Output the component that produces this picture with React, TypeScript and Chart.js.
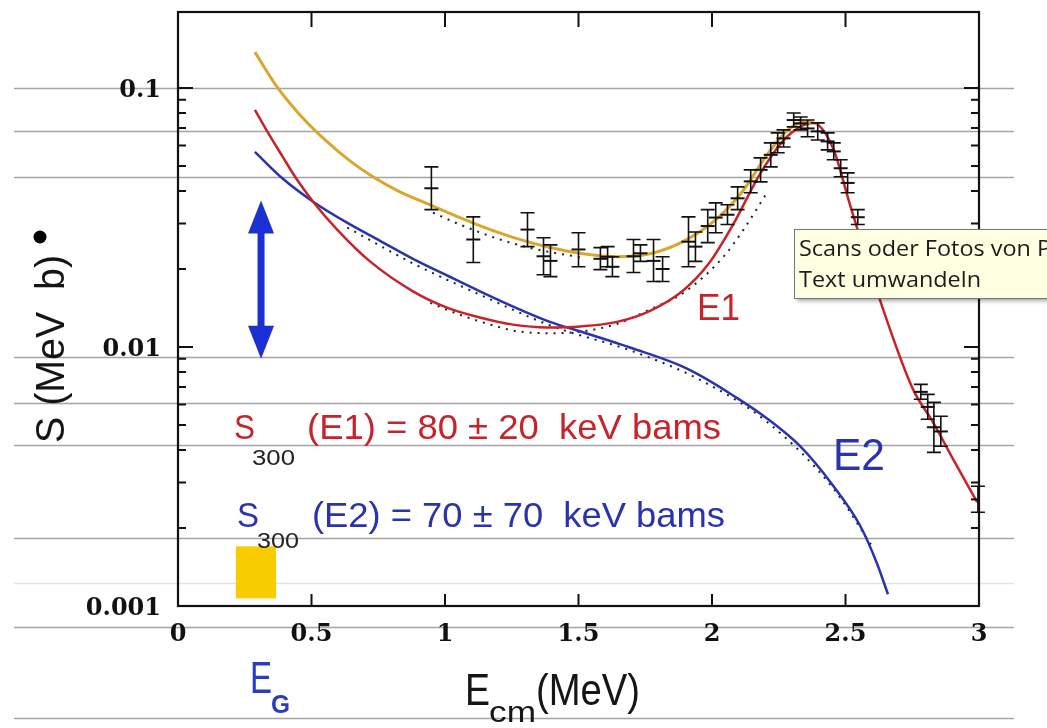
import React, { useEffect, useRef } from 'react';
import { Chart, registerables } from 'chart.js';
Chart.register(...registerables);

// ---- data ----
const totalX = [0.288, 0.371, 0.457, 0.551, 0.644, 0.730, 0.831, 0.944, 1.056, 1.142, 1.270, 1.393, 1.517, 1.644, 1.768, 1.891, 2.019, 2.116, 2.206, 2.281, 2.348, 2.397];
const totalY = [0.1376, 0.1009, 0.0787, 0.0630, 0.0523, 0.0454, 0.0397, 0.0354, 0.0316, 0.0291, 0.0262, 0.0242, 0.0229, 0.0223, 0.0229, 0.0255, 0.0313, 0.0401, 0.0552, 0.0683, 0.0740, 0.0726];

const e1X = [0.288, 0.333, 0.390, 0.446, 0.506, 0.596, 0.719, 0.880, 1.007, 1.131, 1.255, 1.382, 1.506, 1.644, 1.768, 1.891, 1.985, 2.079, 2.180, 2.266, 2.330, 2.378, 2.453, 2.517, 2.629, 2.753, 2.828, 2.903, 2.993];
const e1Y = [0.0823, 0.0683, 0.0547, 0.0442, 0.0364, 0.0284, 0.0214, 0.0164, 0.0142, 0.0130, 0.0122, 0.0119, 0.0120, 0.0125, 0.0138, 0.0165, 0.0208, 0.0297, 0.0466, 0.0625, 0.0708, 0.0733, 0.0587, 0.0354, 0.0152, 0.00686, 0.00512, 0.00369, 0.00252];

const e2X = [0.288, 0.393, 0.506, 0.633, 0.757, 0.880, 1.007, 1.131, 1.270, 1.393, 1.517, 1.704, 1.880, 1.955, 2.079, 2.206, 2.330, 2.453, 2.554, 2.618, 2.659];
const e2Y = [0.0567, 0.0446, 0.0364, 0.0302, 0.0257, 0.0219, 0.0189, 0.0164, 0.0141, 0.0125, 0.0114, 0.00987, 0.00849, 0.00777, 0.00650, 0.00530, 0.00414, 0.00292, 0.00205, 0.00146, 0.00111];

const fitTotX = [0.955, 1.056, 1.206, 1.345, 1.517];
const fitTotY = [0.0330, 0.0297, 0.0260, 0.0238, 0.0221];

const fitE1X = [0.945, 1.057, 1.170, 1.271, 1.395, 1.519, 1.646, 1.770, 1.894, 2.043, 2.118, 2.201];
const fitE1Y = [0.0148, 0.0133, 0.0122, 0.0115, 0.0113, 0.0115, 0.0123, 0.0140, 0.0162, 0.0223, 0.0284, 0.0387];

const fitE2X = [0.634, 0.881, 1.132, 1.395, 1.706, 1.957, 2.208, 2.456, 2.595];
const fitE2Y = [0.0289, 0.0210, 0.0159, 0.0121, 0.00960, 0.00745, 0.00512, 0.00283, 0.00173];

const dataX = [0.949, 1.106, 1.309, 1.369, 1.395, 1.500, 1.582, 1.609, 1.627, 1.706, 1.732, 1.781, 1.815, 1.912, 1.938, 1.984, 2.014, 2.058, 2.096, 2.145, 2.182, 2.220, 2.246, 2.268, 2.306, 2.332, 2.358, 2.396, 2.433, 2.456, 2.482, 2.508, 2.546, 2.782, 2.808, 2.831, 2.857, 2.996];
const dataY = [0.0410, 0.0260, 0.0284, 0.0224, 0.0215, 0.0238, 0.0219, 0.0223, 0.0204, 0.0224, 0.0230, 0.0215, 0.0200, 0.0255, 0.0244, 0.0293, 0.0316, 0.0324, 0.0375, 0.0436, 0.0483, 0.0552, 0.0614, 0.0639, 0.0752, 0.0730, 0.0698, 0.0680, 0.0622, 0.0569, 0.0490, 0.0430, 0.0317, 0.00671, 0.00587, 0.00490, 0.00472, 0.00258];
const dataHigh = [0.0496, 0.0318, 0.0330, 0.0264, 0.0248, 0.0276, 0.0242, 0.0244, 0.0223, 0.0260, 0.0248, 0.0260, 0.0223, 0.0318, 0.0278, 0.0339, 0.0360, 0.0354, 0.0415, 0.0483, 0.0537, 0.0614, 0.0671, 0.0689, 0.0801, 0.0773, 0.0752, 0.0733, 0.0671, 0.0614, 0.0528, 0.0470, 0.0339, 0.00717, 0.00656, 0.00611, 0.00540, 0.00290];
const dataLow = [0.0339, 0.0212, 0.0244, 0.0190, 0.0187, 0.0204, 0.0199, 0.0204, 0.0187, 0.0194, 0.0214, 0.0179, 0.0179, 0.0204, 0.0214, 0.0253, 0.0276, 0.0297, 0.0339, 0.0394, 0.0434, 0.0496, 0.0562, 0.0592, 0.0708, 0.0689, 0.0648, 0.0630, 0.0577, 0.0528, 0.0454, 0.0394, 0.0297, 0.00628, 0.00526, 0.00392, 0.00414, 0.00230];

const xTickValues = [0, 0.5, 1, 1.5, 2, 2.5, 3];
const xTickLabels = ['0', '0.5', '1', '1.5', '2', '2.5', '3'];
const yTickValues = [0.001, 0.01, 0.1];
const yTickLabels = ['0.001', '0.01', '0.1'];

const arrowX = 0.311;
const arrowTop = 0.0368;
const arrowBottom = 0.0090;
const boxX = [0.217, 0.367];
const boxY = [0.00107, 0.0017];

const X_MIN = 0, X_MAX = 3, Y_MIN = 0.001, Y_MAX = 0.1965;

const YELLOW = '#d9a62e';
const RED = '#c6242b';
const BLUE = '#2a33ad';
const ARROW_BLUE = '#1a30d2';
const PAPER_LINES = [88, 131, 177, 357, 403, 445, 538, 627, 718];
const FAINT_LINES = [583];

const pts = (xs: number[], ys: number[]) => xs.map((x, i) => ({ x, y: ys[i] }));

function fitText(ctx: CanvasRenderingContext2D, text: string, x: number, y: number, w: number, font: string, color: string) {
  ctx.save();
  ctx.font = font;
  const m = ctx.measureText(text).width;
  const s = m > 0 ? w / m : 1;
  ctx.translate(x, y);
  ctx.scale(s, 1);
  ctx.fillStyle = color;
  ctx.textAlign = 'left';
  ctx.textBaseline = 'alphabetic';
  ctx.fillText(text, 0, 0);
  ctx.restore();
}

const decor = {
  id: 'decor',
  beforeDraw(chart: any) {
    const ctx = chart.ctx as CanvasRenderingContext2D;
    ctx.save();
    ctx.fillStyle = '#ffffff';
    ctx.fillRect(0, 0, chart.width, chart.height);
    ctx.lineWidth = 1.3;
    ctx.strokeStyle = '#a4a4a4';
    PAPER_LINES.forEach((y) => {
      ctx.beginPath();
      ctx.moveTo(14, y + 0.5);
      ctx.lineTo(1014, y + 0.5);
      ctx.stroke();
    });
    ctx.strokeStyle = '#e2e2e2';
    FAINT_LINES.forEach((y) => {
      ctx.beginPath();
      ctx.moveTo(14, y + 0.5);
      ctx.lineTo(1014, y + 0.5);
      ctx.stroke();
    });
    ctx.restore();
  },
  beforeDatasetsDraw(chart: any) {
    const ctx = chart.ctx as CanvasRenderingContext2D;
    const xs = chart.scales.x, ys = chart.scales.y;
    ctx.save();
    const bx0 = xs.getPixelForValue(boxX[0]), bx1 = xs.getPixelForValue(boxX[1]);
    const by0 = ys.getPixelForValue(boxY[1]), by1 = ys.getPixelForValue(boxY[0]);
    ctx.fillStyle = '#f8cd00';
    ctx.fillRect(bx0, by0, bx1 - bx0, by1 - by0);
    const ax = xs.getPixelForValue(arrowX);
    const at = ys.getPixelForValue(arrowTop), ab = ys.getPixelForValue(arrowBottom);
    const hl = 33, hw = 13;
    ctx.fillStyle = ARROW_BLUE;
    ctx.fillRect(ax - 3.5, at + hl - 2, 7, ab - at - 2 * hl + 4);
    ctx.beginPath();
    ctx.moveTo(ax, at); ctx.lineTo(ax + hw, at + hl); ctx.lineTo(ax - hw, at + hl); ctx.closePath(); ctx.fill();
    ctx.beginPath();
    ctx.moveTo(ax, ab); ctx.lineTo(ax + hw, ab - hl); ctx.lineTo(ax - hw, ab - hl); ctx.closePath(); ctx.fill();
    ctx.restore();
  },
  afterDatasetsDraw(chart: any) {
    const ctx = chart.ctx as CanvasRenderingContext2D;
    const xs = chart.scales.x, ys = chart.scales.y;
    const a = chart.chartArea;
    ctx.save();
    ctx.strokeStyle = '#111';
    ctx.lineWidth = 1.6;
    dataX.forEach((x, i) => {
      const px = xs.getPixelForValue(x);
      const t = ys.getPixelForValue(dataHigh[i]);
      const b = ys.getPixelForValue(dataLow[i]);
      ctx.beginPath();
      ctx.moveTo(px, t); ctx.lineTo(px, b);
      ctx.moveTo(px - 7, t); ctx.lineTo(px + 7, t);
      ctx.moveTo(px - 7, b); ctx.lineTo(px + 7, b);
      ctx.stroke();
    });
    ctx.strokeStyle = '#111';
    ctx.lineWidth = 2.2;
    ctx.strokeRect(a.left, a.top, a.right - a.left, a.bottom - a.top);
    ctx.lineWidth = 2;
    ctx.beginPath();
    for (let k = -3; k <= -1; k++) {
      for (let m = 1; m <= 9; m++) {
        const v = m * Math.pow(10, k);
        if (v < Y_MIN - 1e-12 || v > Y_MAX) continue;
        const py = ys.getPixelForValue(v);
        const len = m === 1 ? 15 : 8;
        ctx.moveTo(a.left, py); ctx.lineTo(a.left + len, py);
        ctx.moveTo(a.right, py); ctx.lineTo(a.right - len, py);
      }
    }
    xTickValues.forEach((v) => {
      if (v <= X_MIN || v >= X_MAX) return;
      const px = xs.getPixelForValue(v);
      ctx.moveTo(px, a.bottom); ctx.lineTo(px, a.bottom - 12);
      ctx.moveTo(px, a.top); ctx.lineTo(px, a.top + 15);
    });
    ctx.stroke();
    ctx.restore();
  },
  afterDraw(chart: any) {
    const ctx = chart.ctx as CanvasRenderingContext2D;
    const SANS = '"Liberation Sans", Arial, sans-serif';
    ctx.save();
    ctx.translate(64, 443);
    ctx.rotate(-Math.PI / 2);
    fitText(ctx, 'S (MeV  b)', 0, 0, 188, `40px ${SANS}`, '#151515');
    ctx.restore();
    ctx.save();
    ctx.fillStyle = '#000';
    ctx.beginPath();
    ctx.arc(40, 237, 6.5, 0, Math.PI * 2);
    ctx.fill();
    ctx.restore();
    fitText(ctx, 'S', 234, 439, 21, `35px ${SANS}`, RED);
    fitText(ctx, '300', 252, 465, 43, `22px ${SANS}`, '#222');
    fitText(ctx, '(E1) = 80 \u00b1 20  keV bams', 307, 439, 414, `35px ${SANS}`, RED);
    fitText(ctx, 'S', 237, 527, 22, `35px ${SANS}`, BLUE);
    fitText(ctx, '300', 257, 548, 42, `22px ${SANS}`, '#222');
    fitText(ctx, '(E2) = 70 \u00b1 70  keV bams', 312, 527, 413, `35px ${SANS}`, BLUE);
    fitText(ctx, 'E1', 697, 320, 43, `37px ${SANS}`, RED);
    fitText(ctx, 'E2', 833, 470, 52, `45px ${SANS}`, BLUE);
    fitText(ctx, 'E', 250, 693, 22, `45px ${SANS}`, '#2a3cc0');
    fitText(ctx, 'G', 271, 713, 19, `bold 25px ${SANS}`, '#2a3cc0');
    fitText(ctx, 'E', 465, 705, 25, `44px ${SANS}`, '#151515');
    fitText(ctx, 'cm', 489, 722, 47, `30px ${SANS}`, '#151515');
    fitText(ctx, '(MeV)', 536, 705, 104, `44px ${SANS}`, '#151515');
    // tooltip box
    ctx.save();
    ctx.shadowColor = 'rgba(0,0,0,0.35)';
    ctx.shadowOffsetX = 3;
    ctx.shadowOffsetY = 3;
    ctx.shadowBlur = 4;
    ctx.fillStyle = '#ffffe1';
    ctx.fillRect(794, 229, 270, 69);
    ctx.restore();
    ctx.save();
    ctx.strokeStyle = '#767676';
    ctx.lineWidth = 1;
    ctx.strokeRect(794.5, 229.5, 270, 69);
    const tf = '21px "Open Sans", "Noto Sans", sans-serif';
    ctx.font = tf;
    const w1 = ctx.measureText('Scans oder Fotos von P').width;
    const w2 = ctx.measureText('Text umwandeln').width;
    ctx.restore();
    const sc = 252 / w1;
    fitText(ctx, 'Scans oder Fotos von P', 799, 256, 252, tf, '#1b1b1b');
    fitText(ctx, 'Text umwandeln', 799, 287, w2 * sc, tf, '#1b1b1b');
  },
};

export default function App() {
  const ref = useRef<HTMLCanvasElement | null>(null);
  useEffect(() => {
    if (!ref.current) return;
    const line = (label: string, xs: number[], ys: number[], color: string, width: number, dash: number[] = []) => ({
      label,
      data: pts(xs, ys),
      borderColor: color,
      borderWidth: width,
      borderDash: dash,
      pointRadius: 0,
      cubicInterpolationMode: 'monotone',
    });
    const chart = new Chart(ref.current, {
      type: 'line',
      data: {
        datasets: [
          {
            label: 'data',
            data: pts(dataX, dataY),
            showLine: false,
            pointStyle: 'line',
            pointRadius: 7,
            pointBorderWidth: 2,
            borderColor: '#111',
            backgroundColor: '#111',
          },
          line('total', totalX, totalY, YELLOW, 3),
          line('E1', e1X, e1Y, RED, 2.5),
          line('E2', e2X, e2Y, BLUE, 2.5),
          line('fit total', fitTotX, fitTotY, '#222', 2, [2, 6]),
          line('fit E1', fitE1X, fitE1Y, '#222', 2, [2, 6]),
          line('fit E2', fitE2X, fitE2Y, '#222', 2, [2, 6]),
        ],
      },
      options: {
        responsive: false,
        devicePixelRatio: 1,
        animation: false,
        layout: { padding: { top: 12, right: 68, left: 0, bottom: 0 } },
        plugins: { legend: { display: false }, tooltip: { enabled: false } },
        scales: {
          x: {
            type: 'linear',
            min: X_MIN,
            max: X_MAX,
            grid: { display: false },
            border: { display: false },
            afterFit: (s: any) => { s.height = 122; s.paddingLeft = 0; s.paddingRight = 0; },
            afterBuildTicks: (s: any) => { s.ticks = xTickValues.map((v) => ({ value: v })); },
            ticks: {
              autoSkip: false,
              maxRotation: 0,
              padding: 6,
              color: '#111',
              font: { family: '"DejaVu Serif", serif', size: 24, weight: 'bold' },
              callback: (v: any) => {
                const i = xTickValues.findIndex((t) => Math.abs(t - Number(v)) < 1e-9);
                return i >= 0 ? xTickLabels[i] : '';
              },
            },
          },
          y: {
            type: 'logarithmic',
            min: Y_MIN,
            max: Y_MAX,
            grid: { display: false },
            border: { display: false },
            afterFit: (s: any) => { s.width = 178; s.paddingTop = 0; s.paddingBottom = 0; },
            afterBuildTicks: (s: any) => { s.ticks = yTickValues.map((v) => ({ value: v })); },
            ticks: {
              autoSkip: false,
              padding: 9,
              labelOffset: 3,
              color: '#111',
              font: { family: '"DejaVu Serif", serif', size: 24, weight: 'bold' },
              callback: (v: any) => {
                const i = yTickValues.findIndex((t) => Math.abs(t - Number(v)) / t < 1e-6);
                return i >= 0 ? yTickLabels[i] : '';
              },
            },
          },
        },
      },
      plugins: [decor],
    } as any);
    return () => chart.destroy();
  }, []);
  return (
    <div style={{ position: 'fixed', left: 0, top: 0, width: 1047, height: 728, background: '#fff' }}>
      <canvas ref={ref} width={1047} height={728} style={{ display: 'block', width: 1047, height: 728 }} />
    </div>
  );
}
